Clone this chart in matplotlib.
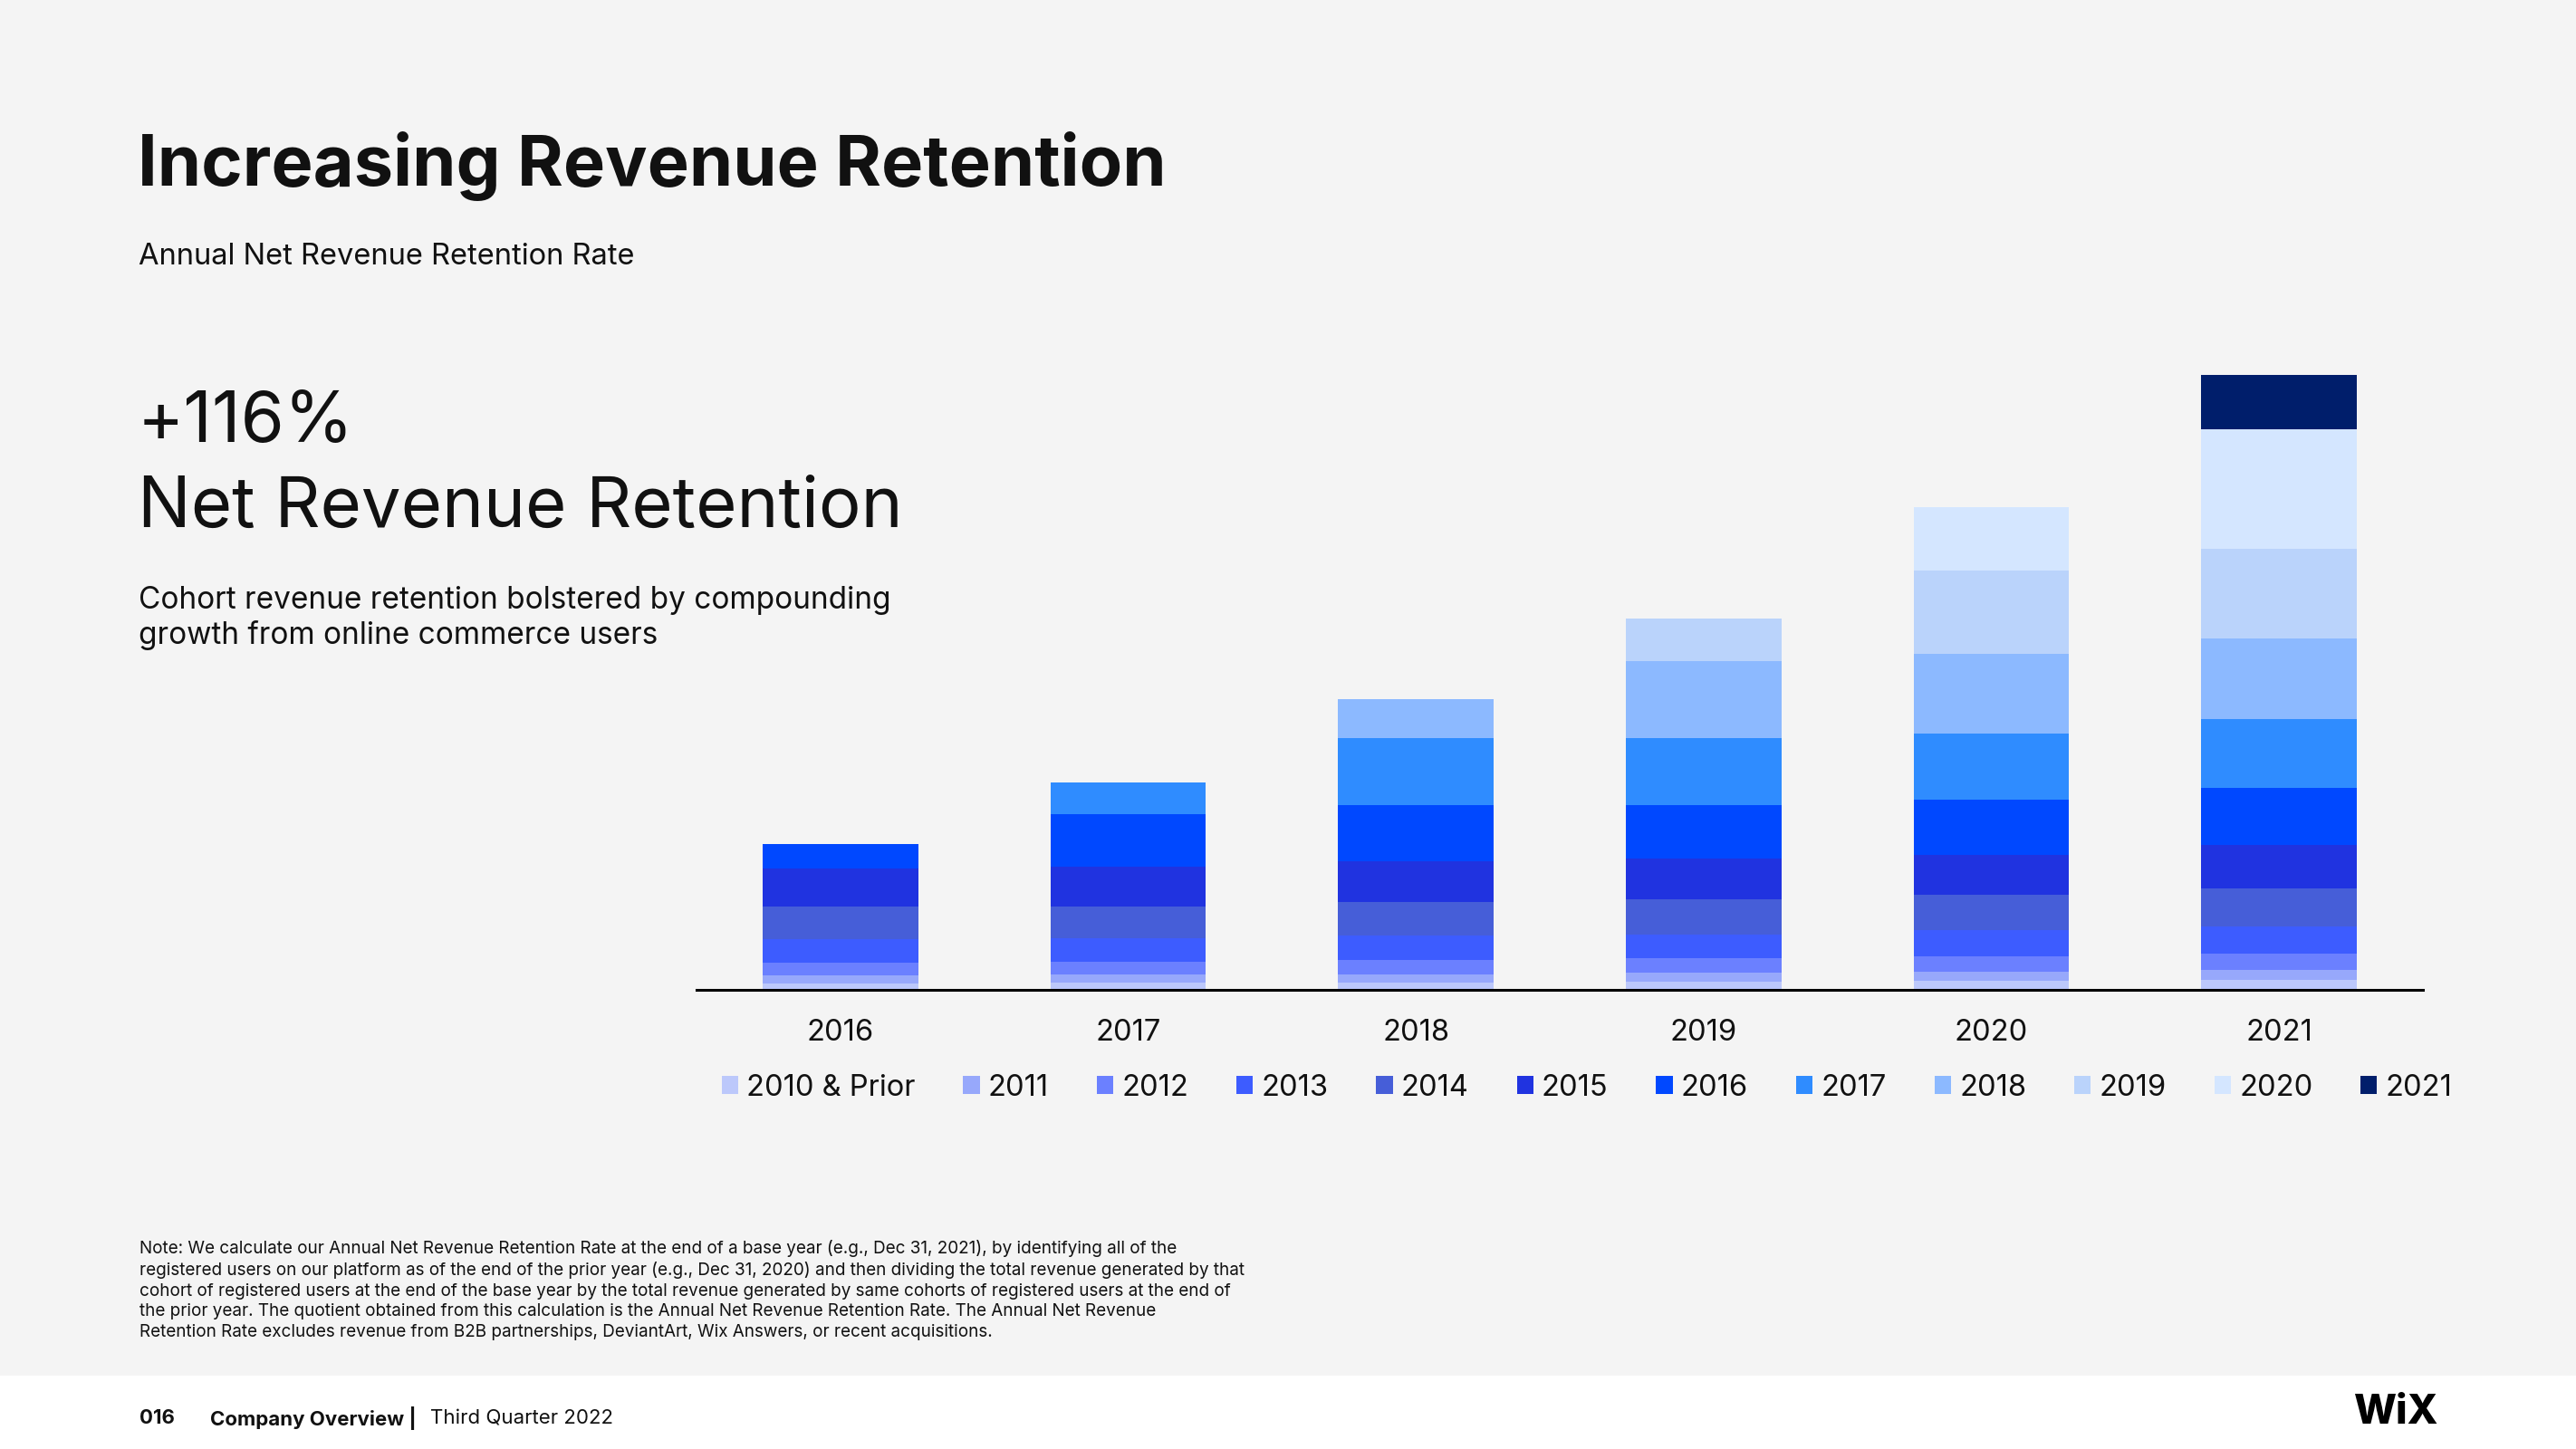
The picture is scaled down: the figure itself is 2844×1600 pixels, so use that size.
import matplotlib

matplotlib.use("Agg")
import matplotlib.pyplot as plt
import numpy as np
from matplotlib.patches import Rectangle

plt.rcParams["font.family"] = ["Inter", "DejaVu Sans"]

W, H = 2844, 1600

# bar years and cohort labels
years = ["2016", "2017", "2018", "2019", "2020", "2021"]
cohorts = ["2010 & Prior", "2011", "2012", "2013", "2014", "2015",
           "2016", "2017", "2018", "2019", "2020", "2021"]
colors = ["#bcc8fb", "#97a8fb", "#6b80ff", "#3d5cff", "#465ed8", "#2033e0",
          "#0048ff", "#2f8cff", "#8cb9ff", "#bad3fb", "#d4e6ff", "#001e6b"]

# revenue by cohort (bottom to top), relative units
rev_2016 = [7.0, 9.0, 14.3, 25.7, 36.0, 41.7, 27.3]
rev_2017 = [7.7, 9.3, 14.3, 25.3, 35.0, 44.3, 57.7, 35.0]
rev_2018 = [8.4, 8.7, 16.0, 26.7, 37.3, 45.0, 62.0, 74.0, 43.0]
rev_2019 = [9.0, 10.0, 15.7, 26.6, 38.4, 45.0, 59.0, 74.3, 84.7, 47.3]
rev_2020 = [10.0, 10.4, 16.8, 28.5, 38.9, 44.8, 60.3, 73.3, 87.9, 92.3, 69.8]
rev_2021 = [10.9, 11.3, 17.7, 30.3, 41.7, 48.4, 62.5, 76.1, 89.2, 98.7, 132.2, 59.8]

rows = [rev_2016, rev_2017, rev_2018, rev_2019, rev_2020, rev_2021]
data = np.zeros((len(years), len(cohorts)))
for i, r in enumerate(rows):
    data[i, : len(r)] = r


def fx(x):
    return x / W


def fy(y):
    return 1 - y / H


fig = plt.figure(figsize=(W / 100, H / 100), dpi=100)
fig.patch.set_facecolor("#f4f4f4")
# white footer strip
fig.patches.append(Rectangle((0, 0), 1, fy(1519), transform=fig.transFigure,
                             facecolor="white", edgecolor="none", zorder=0))

ax = fig.add_axes([fx(769), fy(1093), fx(2675 - 769), (1093 - 400) / H])
ax.set_facecolor("none")
x = np.arange(len(years))
bottom = np.zeros(len(years))
handles = []
for j, name in enumerate(cohorts):
    vals = data[:, j]
    b = ax.bar(x, vals, 0.54, bottom=bottom, color=colors[j], linewidth=0, label=name)
    handles.append(b)
    bottom += vals

ax.set_xlim(-0.5, 5.5)
ax.set_ylim(0, 693)
for s in ["top", "right", "left"]:
    ax.spines[s].set_visible(False)
ax.spines["bottom"].set_linewidth(2.2)
ax.spines["bottom"].set_color("black")
ax.spines["bottom"].set_zorder(5)
ax.set_yticks([])
ax.set_xticks(x)
ax.set_xticklabels(years, fontsize=23.5, color="#111111")
ax.tick_params(axis="x", length=0, pad=23)

fig.legend(handles, cohorts, ncol=12, loc="center", bbox_to_anchor=(fx(1752), fy(1201)),
           frameon=False, fontsize=23.5, handlelength=0.56, handleheight=0.56,
           handletextpad=0.28, columnspacing=1.62, labelcolor="#111111")

# headline texts
fig.text(fx(152), fy(205), "Increasing Revenue Retention", fontsize=55.8,
         fontweight="bold", va="baseline", color="#111111")
fig.text(fx(153), fy(292), "Annual Net Revenue Retention Rate", fontsize=23.5,
         va="baseline", color="#111111")
fig.text(fx(152), fy(488), "+116%", fontsize=56, va="baseline", color="#111111")
fig.text(fx(152), fy(582), "Net Revenue Retention", fontsize=56, va="baseline",
         color="#111111")
fig.text(fx(153), fy(672), "Cohort revenue retention bolstered by compounding",
         fontsize=24, va="baseline", color="#111111")
fig.text(fx(153), fy(711), "growth from online commerce users",
         fontsize=24, va="baseline", color="#111111")

note = ("Note: We calculate our Annual Net Revenue Retention Rate at the end of a base year (e.g., Dec 31, 2021), by identifying all of the\n"
        "registered users on our platform as of the end of the prior year (e.g., Dec 31, 2020) and then dividing the total revenue generated by that\n"
        "cohort of registered users at the end of the base year by the total revenue generated by same cohorts of registered users at the end of\n"
        "the prior year. The quotient obtained from this calculation is the Annual Net Revenue Retention Rate. The Annual Net Revenue\n"
        "Retention Rate excludes revenue from B2B partnerships, DeviantArt, Wix Answers, or recent acquisitions.")
fig.text(fx(154), fy(1369), note, fontsize=13.6, va="top", linespacing=1.33, color="#111111")

# footer
fig.text(fx(154), fy(1566), "016", fontsize=16, fontweight="bold", va="center", color="#111111")
fig.text(fx(232), fy(1566), "Company Overview |", fontsize=16, fontweight="bold",
         va="center", color="#111111")
fig.text(fx(475), fy(1566), "Third Quarter 2022", fontsize=16, va="center", color="#111111")
fig.text(fx(2692), fy(1560), "WiX", fontsize=32, fontweight="heavy", ha="right",
         va="center", color="black")

fig.savefig("out.png", dpi=100, facecolor=fig.get_facecolor())
